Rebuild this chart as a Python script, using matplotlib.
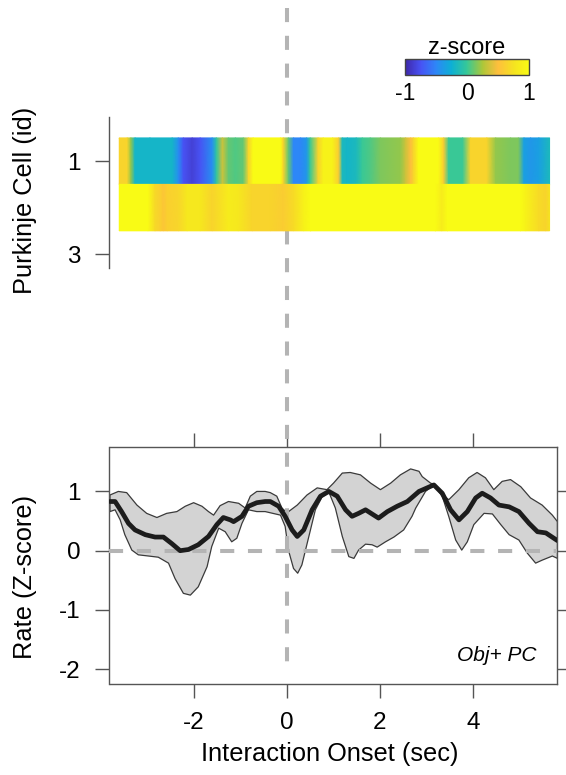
import numpy as np
import matplotlib
matplotlib.use("Agg")
import matplotlib.pyplot as plt
from matplotlib.colors import LinearSegmentedColormap
from matplotlib.transforms import blended_transform_factory

plt.rcParams['font.family'] = ['Liberation Sans', 'DejaVu Sans']
plt.rcParams['axes.unicode_minus'] = False

# ---------------- data ----------------
# heatmap rows (time in sec, z-score)
row1_t = [-3.61, -3.44, -3.36, -3.27, -2.95, -2.47, -2.34, -2.23, -2.04, -1.87, -1.61, -1.52,
          -1.39, -1.26, -1.11, -0.94, -0.83, -0.73, -0.14, -0.08, 0.03, 0.14, 0.29, 0.42, 0.50,
          0.67, 0.78, 0.98, 1.11, 1.19, 1.30, 1.49, 1.62, 1.79, 2.01, 2.44, 2.55, 2.66, 2.72,
          2.83, 3.26, 3.37, 3.48, 3.78, 3.95, 4.30, 4.49, 4.81, 4.98, 5.10, 5.24, 5.42, 5.65]
row1_z = [0.65, 0.65, 0.2, -0.2, -0.2, -0.2, -0.45, -0.75, -0.85, -0.75, -0.45, -0.05,
          0.35, 0.1, 0.05, 0.1, 0.65, 1.0, 1.0, 0.65, 0.1, -0.5, -0.5, -0.4, 0.0,
          0.65, 0.9, 0.9, 0.6, -0.15, -0.2, -0.15, 0.0, 0.05, 0.15, 0.2, 0.35, 0.5, 0.65,
          1.0, 1.0, 0.6, 0.0, 0.0, 0.65, 0.65, 0.2, 0.15, 0.15, -0.35, -0.4, -0.35, -0.15]

row2_t = [-3.61, -2.99, -2.84, -2.73, -2.66, -2.58, -2.34, -2.15, -1.87, -1.61, -1.26, -1.05,
          -0.75, -0.36, -0.08, 0.14, 0.36, 0.50, 3.20, 3.33, 3.45, 5.03, 5.14, 5.42, 5.57, 5.65]
row2_z = [1.0, 1.0, 0.68, 0.62, 0.55, 0.62, 0.66, 0.8, 0.8, 0.65, 0.85, 0.8,
          0.65, 0.65, 0.6, 0.7, 0.9, 1.0, 1.0, 0.85, 1.0, 1.0, 0.9, 0.7, 0.65, 0.75]

cell_ids = [1, 2]
cell_ticks = [1, 3]

# population rate (z-score)
mean_t = [-3.81, -3.70, -3.56, -3.41, -3.27, -3.05, -2.84, -2.66, -2.48, -2.30, -2.12, -1.91,
          -1.69, -1.51, -1.37, -1.22, -1.15, -0.97, -0.83, -0.65, -0.47, -0.36, -0.18, -0.04,
          0.11, 0.22, 0.36, 0.54, 0.72, 0.90, 1.08, 1.26, 1.40, 1.54, 1.69, 1.83, 1.97, 2.16,
          2.37, 2.59, 2.84, 3.16, 3.34, 3.52, 3.70, 3.88, 4.06, 4.20, 4.38, 4.56, 4.78, 4.99,
          5.21, 5.39, 5.57, 5.82]
mean_z = [0.83, 0.83, 0.66, 0.46, 0.35, 0.27, 0.23, 0.23, 0.12, 0.00, 0.02, 0.10,
          0.24, 0.44, 0.56, 0.52, 0.49, 0.58, 0.75, 0.81, 0.83, 0.83, 0.75, 0.58,
          0.35, 0.24, 0.35, 0.69, 0.92, 1.00, 0.92, 0.69, 0.58, 0.63, 0.69, 0.62, 0.55, 0.66,
          0.75, 0.83, 1.00, 1.11, 0.97, 0.69, 0.52, 0.66, 0.89, 0.97, 0.89, 0.77, 0.74, 0.66,
          0.46, 0.32, 0.30, 0.17]

upper_t = [-3.81, -3.63, -3.45, -3.23, -3.02, -2.80, -2.59, -2.37, -2.19, -2.01, -1.83, -1.69,
           -1.58, -1.44, -1.26, -1.04, -0.90, -0.79, -0.65, -0.47, -0.36, -0.22, -0.11, 0.00,
           0.22, 0.43, 0.65, 0.86, 1.00, 1.19, 1.36, 1.58, 1.80, 2.01, 2.23, 2.44, 2.66, 2.84,
           2.91, 3.09, 3.16, 3.30, 3.48, 3.70, 3.91, 4.09, 4.27, 4.45, 4.63, 4.81, 5.03, 5.24,
           5.49, 5.71, 5.82]
upper_z = [0.94, 1.00, 0.98, 0.77, 0.63, 0.56, 0.63, 0.66, 0.75, 0.81, 0.75, 0.66,
           0.60, 0.76, 0.83, 0.80, 0.72, 0.92, 1.00, 1.00, 0.98, 0.92, 0.72, 0.64,
           0.77, 0.94, 1.06, 1.03, 1.14, 1.31, 1.32, 1.28, 1.14, 1.03, 1.14, 1.28, 1.38, 1.34,
           1.25, 1.14, 1.12, 0.98, 0.86, 1.03, 1.23, 1.32, 1.23, 1.03, 1.17, 1.20, 1.08, 0.89,
           0.77, 0.60, 0.49]

lower_t = [-3.81, -3.70, -3.59, -3.49, -3.34, -3.20, -2.98, -2.77, -2.55, -2.41, -2.23, -2.08,
           -1.91, -1.72, -1.62, -1.47, -1.33, -1.19, -1.08, -0.97, -0.83, -0.65, -0.47, -0.36,
           -0.14, -0.04, 0.03, 0.14, 0.23, 0.32, 0.47, 0.61, 0.75, 0.90, 1.04, 1.19, 1.33, 1.44,
           1.54, 1.69, 1.83, 1.94, 2.12, 2.30, 2.51, 2.69, 2.77, 2.98, 3.16, 3.34, 3.48, 3.63,
           3.76, 3.88, 4.02, 4.24, 4.42, 4.60, 4.78, 4.99, 5.17, 5.35, 5.49, 5.71, 5.82]
lower_z = [0.66, 0.69, 0.52, 0.27, 0.01, -0.07, -0.09, -0.11, -0.21, -0.47, -0.72, -0.75,
           -0.61, -0.27, 0.07, 0.38, 0.32, 0.15, 0.21, 0.46, 0.69, 0.66, 0.66, 0.64,
           0.60, 0.41, 0.01, -0.30, -0.38, -0.24, 0.24, 0.69, 0.90, 0.99, 0.72, 0.24, -0.10, -0.13,
           0.01, 0.11, 0.10, 0.06, 0.15, 0.23, 0.35, 0.58, 0.72, 1.00, 1.11, 0.92, 0.58, 0.18,
           0.01, 0.15, 0.44, 0.63, 0.62, 0.44, 0.27, 0.18, -0.04, -0.21, -0.16, -0.09, -0.13]

x_ticks = [-2, 0, 2, 4]
y_ticks = [1, 0, -1, -2]
cbar_ticks = [-1, 0, 1]

# ---------------- style ----------------
parula = LinearSegmentedColormap.from_list('parula', [
    (0.2422, 0.1504, 0.6603), (0.2810, 0.3228, 0.9579), (0.1786, 0.5289, 0.9682),
    (0.0500, 0.6900, 0.8300), (0.2161, 0.7843, 0.5923), (0.6720, 0.7793, 0.2227),
    (0.9970, 0.7459, 0.2399), (0.9598, 0.8870, 0.1297), (0.9769, 0.9839, 0.0805)])

W, H = 566, 775
fig = plt.figure(figsize=(W / 100, H / 100), dpi=100)
spine_c = '#555555'
FS_TICK = 17.5
FS_LAB = 18.3

def fx(px):
    return px / W

def fy(py):
    return 1 - py / H

# bottom axes
ax2 = fig.add_axes([fx(109.5), fy(684), fx(557) - fx(109.5), fy(447) - fy(684)])
ax2.set_xlim(-3.82, 5.81)
ax2.set_ylim(-2.25, 1.75)
ax2.fill(upper_t + lower_t[::-1], upper_z + lower_z[::-1], facecolor='#d3d3d3',
         edgecolor='#3a3a3a', linewidth=0.9, zorder=2, joinstyle='round')
ax2.axhline(0, color='#b4b4b4', lw=2.9, ls=(0, (3.5, 3.4)), zorder=3)
ax2.plot(mean_t, mean_z, color='#1c1c1c', lw=3.4, solid_capstyle='round',
         solid_joinstyle='round', zorder=4)
for s in ax2.spines.values():
    s.set_color(spine_c)
    s.set_linewidth(1.0)
ax2.set_xticks(x_ticks)
ax2.set_xticklabels([str(v) for v in x_ticks])
ax2.set_yticks(y_ticks)
ax2.set_yticklabels([str(v) for v in y_ticks])
ax2.tick_params(axis='both', direction='out', length=10, width=1.0, color=spine_c,
                labelsize=FS_TICK, top=True, right=True, pad=10)
ax2.tick_params(axis='y', pad=11)
ax2.text(0.955, 0.12, 'Obj+ PC', transform=ax2.transAxes, ha='right', va='center',
         fontsize=15, style='italic')

# vertical dashed line spanning the figure at t = 0
trans = blended_transform_factory(ax2.transData, fig.transFigure)
ax2.plot([0, 0], [fy(8), fy(673)], transform=trans, clip_on=False,
         color='#b4b4b4', lw=2.9, ls=(0, (3.5, 3.4)), zorder=3.5)

# heatmap axes
ax1 = fig.add_axes([fx(109.5), fy(268), fx(557) - fx(109.5), fy(117) - fy(268)])
ax1.set_zorder(3)
ax1.set_facecolor('none')
ax1.set_xlim(-3.82, 5.81)
ax1.set_ylim(3.3, 0.05)
mesh = None
for cid, tt, zz in zip(cell_ids, [row1_t, row2_t], [row1_z, row2_z]):
    C = np.vstack([zz, zz])
    mesh = ax1.pcolormesh(np.array(tt), np.array([cid - 0.5, cid + 0.5]), C,
                          shading='gouraud', cmap=parula, vmin=-1, vmax=1)
for k in ['top', 'right', 'bottom']:
    ax1.spines[k].set_visible(False)
ax1.spines['left'].set_color(spine_c)
ax1.spines['left'].set_linewidth(1.0)
ax1.set_xticks([])
ax1.set_yticks(cell_ticks)
ax1.set_yticklabels([str(v) for v in cell_ticks])
ax1.tick_params(axis='y', direction='out', length=10, width=1.0, color=spine_c,
                labelsize=FS_TICK, pad=11)

# colorbar
cax = fig.add_axes([fx(405), fy(75), fx(529) - fx(405), fy(59) - fy(75)])
cb = fig.colorbar(mesh, cax=cax, orientation='horizontal', ticks=cbar_ticks)
cb.ax.set_xticklabels([str(v) for v in cbar_ticks])
cb.ax.tick_params(length=0, labelsize=16.5, pad=5)
cb.outline.set_edgecolor('#444444')
cb.outline.set_linewidth(1.0)
cax.set_title('z-score', fontsize=17, pad=2)

# labels
fig.text(fx(25), fy(200), 'Purkinje Cell (id)', rotation=90, ha='center', va='center',
         fontsize=FS_LAB)
fig.text(fx(25), fy(577), 'Rate (Z-score)', rotation=90, ha='center', va='center',
         fontsize=FS_LAB)
fig.text(fx(330), fy(754), 'Interaction Onset (sec)', ha='center', va='center',
         fontsize=FS_LAB)

fig.savefig('out.png', dpi=100)
